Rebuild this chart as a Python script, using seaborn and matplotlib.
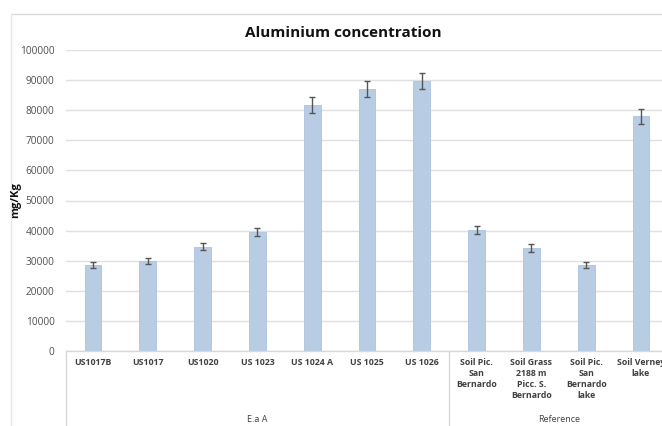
import matplotlib
matplotlib.use("Agg")
import matplotlib.pyplot as plt
from matplotlib.lines import Line2D
import seaborn as sns
import pandas as pd

# Sample labels, mean concentrations (mg/Kg) and error bar half-widths
samples = [
    "US1017B", "US1017", "US1020", "US 1023", "US 1024 A", "US 1025", "US 1026",
    "Soil Pic.\nSan\nBernardo", "Soil Grass\n2188 m\nPicc. S.\nBernardo",
    "Soil Pic.\nSan\nBernardo\nlake", "Soil Verney\nlake",
]
concentration = [28500, 30000, 34700, 39500, 81700, 87000, 89800,
                 40200, 34200, 28500, 78000]
error = [1000, 1000, 1200, 1300, 2600, 2700, 2700,
         1300, 1200, 1000, 2500]
groups = ["E.a A", "Reference"]
group_sizes = [7, 4]

sns.set_theme(style="white")
plt.rcParams["font.family"] = ["Open Sans", "DejaVu Sans"]

df = pd.DataFrame({"sample": samples, "value": concentration})

W, H = 662, 426
fig = plt.figure(figsize=(W / 100, H / 100), dpi=100)
ax = fig.add_axes([65.6 / W, 1 - 351 / H, (668.4 - 65.6) / W, (351 - 50) / H])

bar_color = "#B8CCE4"
sns.barplot(data=df, x="sample", y="value", color=bar_color, width=0.31,
            saturation=1, errorbar=None, ax=ax, zorder=2)
for p in ax.patches:
    p.set_edgecolor("#ABC2DE")
    p.set_linewidth(0.6)

ax.errorbar(range(len(samples)), concentration, yerr=error, fmt="none",
            ecolor="#555555", elinewidth=1.0, capsize=2.5, capthick=1.0, zorder=3)

ax.set_ylim(0, 100000)
ax.set_xlim(-0.5, len(samples) - 0.5)
ax.set_yticks(range(0, 100001, 10000))
ax.yaxis.grid(True, color="#E0E0E0", linewidth=1.0)
ax.set_axisbelow(True)
for side in ["top", "right", "left"]:
    ax.spines[side].set_visible(False)
ax.spines["bottom"].set_color("#D9D9D9")
ax.spines["bottom"].set_linewidth(1.0)

ax.tick_params(axis="y", length=0, pad=8, labelsize=7.3, labelcolor="#505050")
ax.tick_params(axis="x", length=0, pad=5, labelsize=6.3, labelcolor="#404040")
for lbl in ax.get_xticklabels():
    lbl.set_fontweight("bold")
    lbl.set_linespacing(1.3)
    lbl.set_verticalalignment("top")
ax.set_xlabel("")
ax.set_ylabel("")

# Group separators below the axis and group names
trans = ax.get_xaxis_transform()
start = -0.5
for name, n in zip(groups, group_sizes):
    ax.add_line(Line2D([start, start], [0, -0.3], transform=trans,
                       color="#D9D9D9", linewidth=1.0, clip_on=False))
    ax.text(start + n / 2, -69 / 301, name, transform=trans, ha="center",
            va="center", fontsize=6.5, color="#404040", clip_on=False)
    start += n

fig.text(343 / W, 1 - 33 / H, "Aluminium concentration", ha="center",
         va="center", fontsize=11, fontweight="bold", color="#111111")
fig.text(16 / W, 1 - 200 / H, "mg/Kg", rotation=90, ha="center", va="center",
         fontsize=8, fontweight="bold", color="#111111")

# Chart area frame
fig.add_artist(Line2D([11 / W, 1], [1 - 14 / H, 1 - 14 / H],
                      transform=fig.transFigure, color="#D9D9D9", linewidth=1.0))
fig.add_artist(Line2D([11 / W, 11 / W], [0, 1 - 14 / H],
                      transform=fig.transFigure, color="#E6E6E6", linewidth=1.0))

fig.savefig("out.png", dpi=100)
